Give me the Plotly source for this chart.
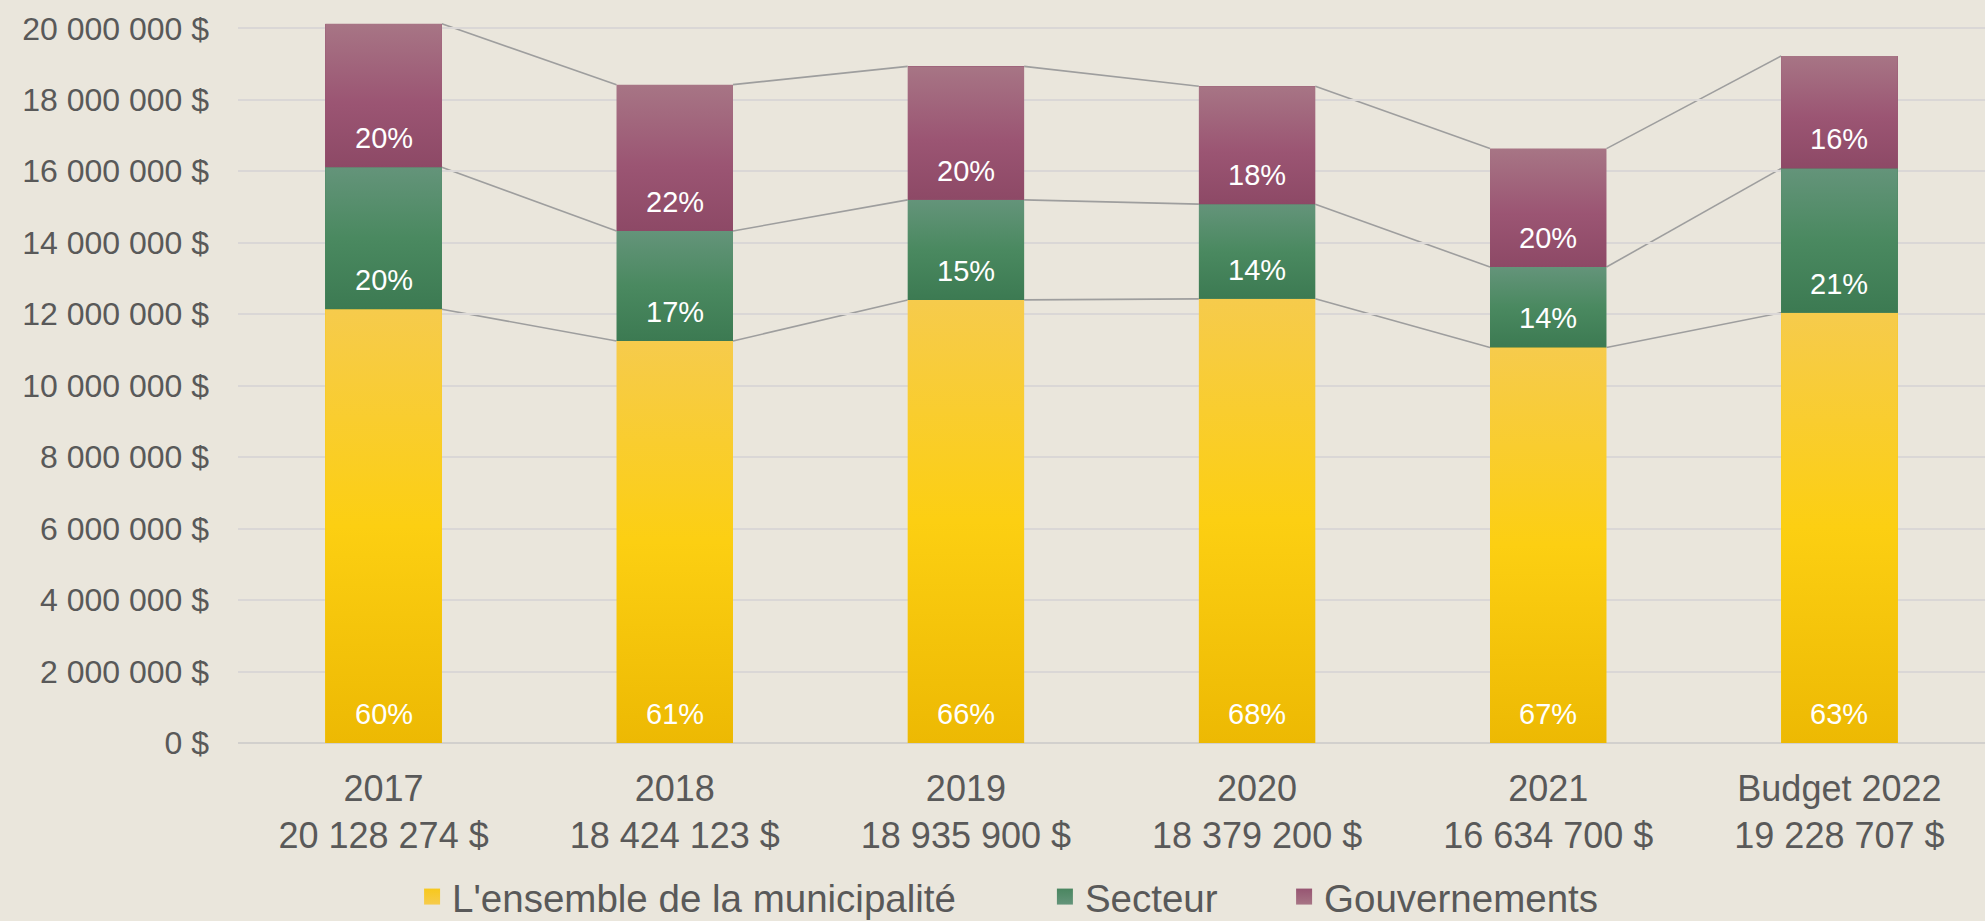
import plotly.graph_objects as go

# ---- data ----
years = ["2017", "2018", "2019", "2020", "2021", "Budget 2022"]
totals = [20128274, 18424123, 18935900, 18379200, 16634700, 19228707]
municipalite = [12140000, 11250000, 12400000, 12430000, 11070000, 12040000]
secteur = [3970000, 3080000, 2800000, 2650000, 2250000, 4040000]
gouvernements = [4018274, 4094123, 3735900, 3299200, 3314700, 3148707]
pct_muni = ["60%", "61%", "66%", "68%", "67%", "63%"]
pct_secteur = ["20%", "17%", "15%", "14%", "14%", "21%"]
pct_gouv = ["20%", "22%", "20%", "18%", "20%", "16%"]
series_names = ["L'ensemble de la municipalité", "Secteur", "Gouvernements"]
y_ticks = [0, 2000000, 4000000, 6000000, 8000000, 10000000, 12000000,
           14000000, 16000000, 18000000, 20000000]

def fmt(v):
    return f"{v:,}".replace(",", " ") + " $"

categories = [f"{y}<br>{fmt(t)}" for y, t in zip(years, totals)]

BG = "#EAE6DC"
TXT = "#595959"
FONT = "Liberation Sans"
BAR_W = 0.4

colors = ["#F7C81C", "#4A8660", "#975572"]
legend_top_colors = ["#F6CB4C", "#64947A", "#A77585"]
gradients = [
    [[0, "#EDB903"], [0.5, "#FCCF12"], [1, "#F6CB4C"]],
    [[0, "#3C7A52"], [0.5, "#4A8960"], [1, "#64947A"]],
    [[0, "#8D4966"], [0.45, "#9B5573"], [1, "#A77585"]],
]
series = [municipalite, secteur, gouvernements]
labels = [pct_muni, pct_secteur, pct_gouv]
legend_ids = ["legend", "legend2", "legend3"]
legend_x = [0.2076, 0.5264, 0.6469]

fig = go.Figure()
for name, vals, col in zip(series_names, series, colors):
    fig.add_trace(go.Bar(
        x=categories, y=vals, name=name, width=BAR_W,
        marker=dict(color=col, line=dict(width=0)),
        hoverinfo="skip", showlegend=False,
    ))

# legend entries (square swatches)
for name, col, topc, lid in zip(series_names, colors, legend_top_colors, legend_ids):
    fig.add_trace(go.Scatter(
        x=[None], y=[None], name=name, mode="markers", legend=lid,
        marker=dict(symbol="square", size=22, color=col,
                    gradient=dict(type="vertical", color=topc),
                    line=dict(width=0)),
    ))

# gradient overlay on each segment, percentage labels, connector lines
base = [0] * len(years)
for vals, lab, grad in zip(series, labels, gradients):
    top = [b + v for b, v in zip(base, vals)]
    for i in range(len(years)):
        xl, xr = i - BAR_W / 2, i + BAR_W / 2
        fig.add_trace(go.Scatter(
            x=[xl, xr, xr, xl, xl], y=[base[i], base[i], top[i], top[i], base[i]],
            xaxis="x2", mode="lines", fill="toself", line=dict(width=0),
            fillgradient=dict(type="vertical", colorscale=grad,
                              start=base[i], stop=top[i]),
            showlegend=False, hoverinfo="skip",
        ))
        fig.add_annotation(x=categories[i], y=base[i], xref="x", yref="y",
                           text=lab[i], showarrow=False, yanchor="bottom",
                           yshift=11, font=dict(color="white", size=29, family=FONT))
    for i in range(len(years) - 1):
        fig.add_shape(type="line", xref="x", yref="y",
                      x0=i + BAR_W / 2, x1=i + 1 - BAR_W / 2,
                      y0=top[i], y1=top[i + 1],
                      line=dict(color="#9E9E9E", width=1.6), layer="below")
    base = top

legend_common = dict(orientation="h", xref="container", yref="container",
                     xanchor="left", y=0.026, yanchor="middle",
                     font=dict(size=38.5, color=TXT, family=FONT),
                     itemsizing="trace", bgcolor="rgba(0,0,0,0)")

fig.update_layout(
    barmode="stack",
    width=1985, height=921,
    paper_bgcolor=BG, plot_bgcolor=BG,
    margin=dict(l=238, r=0, t=23, b=178),
    font=dict(family=FONT, color=TXT, size=30),
    showlegend=True,
    legend=dict(x=legend_x[0], **legend_common),
    legend2=dict(x=legend_x[1], **legend_common),
    legend3=dict(x=legend_x[2], **legend_common),
    xaxis=dict(type="category", range=[-0.5, len(years) - 0.5],
               showgrid=False, zeroline=False,
               tickfont=dict(size=36, color=TXT, family=FONT),
               ticklabelstandoff=21, showline=False),
    xaxis2=dict(overlaying="x", anchor="y", range=[-0.5, len(years) - 0.5],
                visible=False),
    yaxis=dict(range=[0, 20150000], tickmode="array", tickvals=y_ticks,
               ticktext=[fmt(v) for v in y_ticks],
               showgrid=True, gridcolor="#DAD7D6",
               gridwidth=1.5, zeroline=True, zerolinecolor="#D2D0CD",
               zerolinewidth=2, tickfont=dict(size=32, color=TXT, family=FONT),
               ticklabelstandoff=28, showline=False),
)

fig.write_html("out.html", config={"displayModeBar": False},
               post_script="document.body.style.margin='0';document.body.style.overflow='hidden';")
